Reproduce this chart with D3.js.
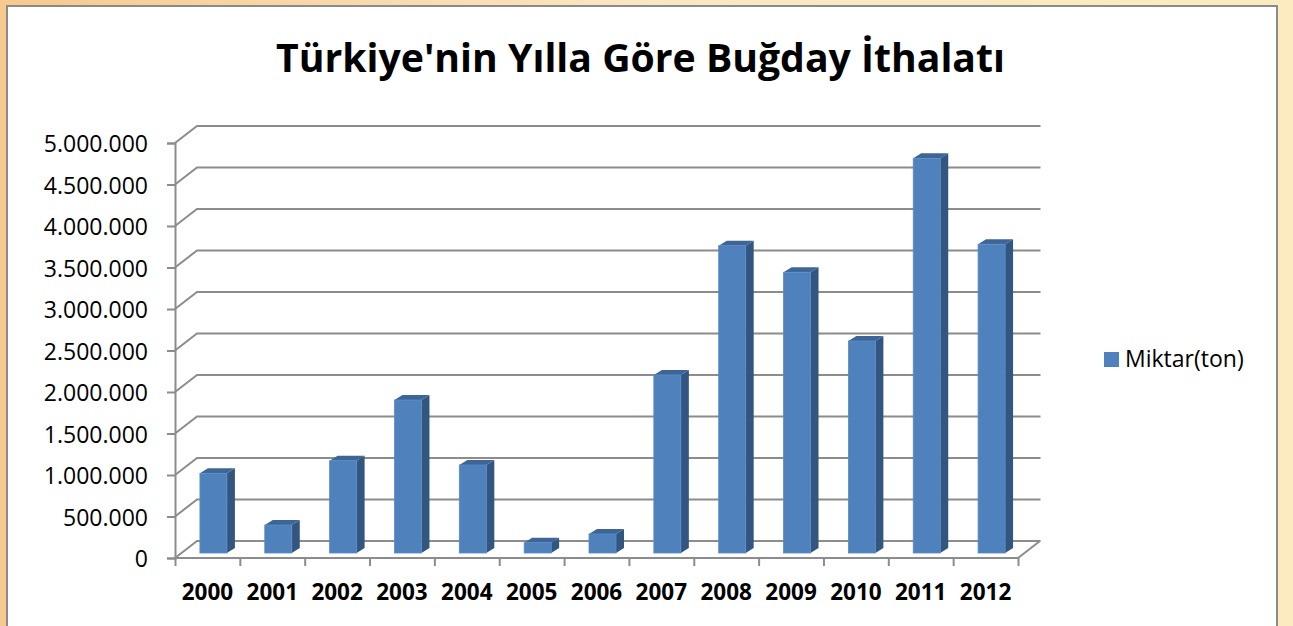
<!DOCTYPE html>
<html>
<head>
<meta charset="utf-8">
<script src="https://cdn.jsdelivr.net/npm/d3@7"></script>
<style>
  html, body { margin: 0; padding: 0; overflow: hidden; }
  svg { display: block; font-family: "Open Sans", sans-serif; }
</style>
</head>
<body>
<svg id="chart" width="1293" height="626"></svg>
<script>
// data
const years = ['2000', '2001', '2002', '2003', '2004', '2005', '2006',
  '2007', '2008', '2009', '2010', '2011', '2012'];
const amounts = [960000, 337000, 1112000, 1843000, 1060000, 123000, 229000,
  2145000, 3703000, 3382000, 2554000, 4755000, 3720000];
const yTicks = [0, 500000, 1000000, 1500000, 2000000, 2500000, 3000000,
  3500000, 4000000, 4500000, 5000000];
const seriesName = 'Miktar(ton)';
const title = "Türkiye'nin Yılla Göre Buğday İthalatı";

const svg = d3.select('#chart');
const W = 1293, H = 626;

// background outside the chart box
const defs = svg.append('defs');
const bg = defs.append('linearGradient').attr('id', 'bg')
  .attr('x1', 0).attr('y1', 0).attr('x2', 1).attr('y2', 0);
bg.append('stop').attr('offset', 0).attr('stop-color', '#f6c98e');
bg.append('stop').attr('offset', 0.5).attr('stop-color', '#fbe6c4');
bg.append('stop').attr('offset', 1).attr('stop-color', '#fcebc0');
svg.append('rect').attr('width', W).attr('height', H).attr('fill', 'url(#bg)');

// chart box
svg.append('rect')
  .attr('x', 7).attr('y', 6).attr('width', 1270).attr('height', 640)
  .attr('fill', '#fff').attr('stroke', '#8a8a8a').attr('stroke-width', 2);

svg.append('text')
  .attr('x', 640.5).attr('y', 72)
  .attr('text-anchor', 'middle')
  .attr('font-size', 40).attr('font-weight', 'bold')
  .attr('textLength', 729).attr('lengthAdjust', 'spacingAndGlyphs')
  .text(title);

// plot geometry (front plane) and depth offset of the back wall
const x0 = 175, x1 = 1018;
const depth = { dx: 22, dy: -17 };
const barOff = { dx: 6, dy: -5 };   // bar front sits a bit inside the floor
const barSide = { dx: 8, dy: -5 };
const barW = 27;
const gridColor = '#8c8c8c';

const x = d3.scaleBand().domain(years).range([x0, x1]);
const y = d3.scaleLinear().domain([0, 5000000]).range([558, 143]);

const fmt = d3.formatLocale({ decimal: ',', thousands: '.', grouping: [3], currency: ['', ''] }).format(',d');

// gridlines: side wall segment + back wall line
const grid = svg.append('g').attr('fill', 'none')
  .attr('stroke', gridColor).attr('stroke-width', 2);
grid.selectAll('path').data(yTicks).join('path')
  .attr('d', (d) => {
    const yy = y(d);
    return `M${x0},${yy}L${x0 + depth.dx},${yy + depth.dy}L${x1 + depth.dx + 0.5},${yy + depth.dy}`;
  });

// floor: front edge and right edge
grid.append('path')
  .attr('d', `M${x0},${y(0)}L${x1},${y(0)}L${x1 + depth.dx},${y(0) + depth.dy}`);

// y axis on the front left edge
const yAxis = svg.append('g')
  .attr('transform', `translate(${x0},0)`)
  .call(d3.axisLeft(y).tickValues(yTicks).tickFormat(fmt).tickSize(8).tickPadding(19));
yAxis.select('.domain').attr('stroke', gridColor).attr('stroke-width', 2);
yAxis.selectAll('.tick line').attr('stroke', gridColor).attr('stroke-width', 2);
yAxis.selectAll('.tick text')
  .attr('font-family', '"Open Sans", sans-serif')
  .attr('font-size', 23).attr('fill', '#000').attr('dy', '0.38em');

// x axis: ticks on category boundaries, labels at centres
const xb = d3.scaleLinear().domain([0, years.length]).range([x0, x1]);
const xTickG = svg.append('g').attr('transform', `translate(0,${y(0)})`)
  .call(d3.axisBottom(xb).ticks(years.length).tickFormat('').tickSize(8));
xTickG.select('.domain').remove();
xTickG.selectAll('.tick line').attr('stroke', gridColor).attr('stroke-width', 2);

const xLab = svg.append('g').attr('transform', `translate(0,${y(0)})`)
  .call(d3.axisBottom(x).tickSize(0).tickPadding(26));
xLab.select('.domain').remove();
xLab.selectAll('.tick text')
  .attr('font-family', '"Open Sans", sans-serif')
  .attr('font-size', 22.5).attr('font-weight', 'bold').attr('fill', '#000');

// 3D bars
const bars = svg.append('g').selectAll('g').data(years).join('g');
bars.each(function (yr, i) {
  const g = d3.select(this);
  const left = x(yr) + x.bandwidth() / 2 - barW / 2 + barOff.dx;
  const right = left + barW;
  const bottom = y(0) + barOff.dy;
  const top = y(amounts[i]) + barOff.dy;
  // side face
  g.append('path')
    .attr('d', `M${right},${bottom}L${right},${top}L${right + barSide.dx},${top + barSide.dy}L${right + barSide.dx},${bottom + barSide.dy}Z`)
    .attr('fill', '#335681');
  // top face
  g.append('path')
    .attr('d', `M${left},${top}L${right},${top}L${right + barSide.dx},${top + barSide.dy}L${left + barSide.dx},${top + barSide.dy}Z`)
    .attr('fill', '#3d6697');
  // front face
  g.append('rect')
    .attr('x', left).attr('y', top)
    .attr('width', barW).attr('height', bottom - top)
    .attr('fill', '#4f81bd').attr('stroke', '#5a8bc6').attr('stroke-width', 0.8);
});

// legend
const legend = svg.append('g').attr('transform', 'translate(1104,352)');
legend.append('rect').attr('width', 15).attr('height', 15).attr('fill', '#4f81bd');
legend.append('text')
  .attr('x', 21).attr('y', 15)
  .attr('font-size', 23).attr('fill', '#000')
  .text(seriesName);
</script>
</body>
</html>
